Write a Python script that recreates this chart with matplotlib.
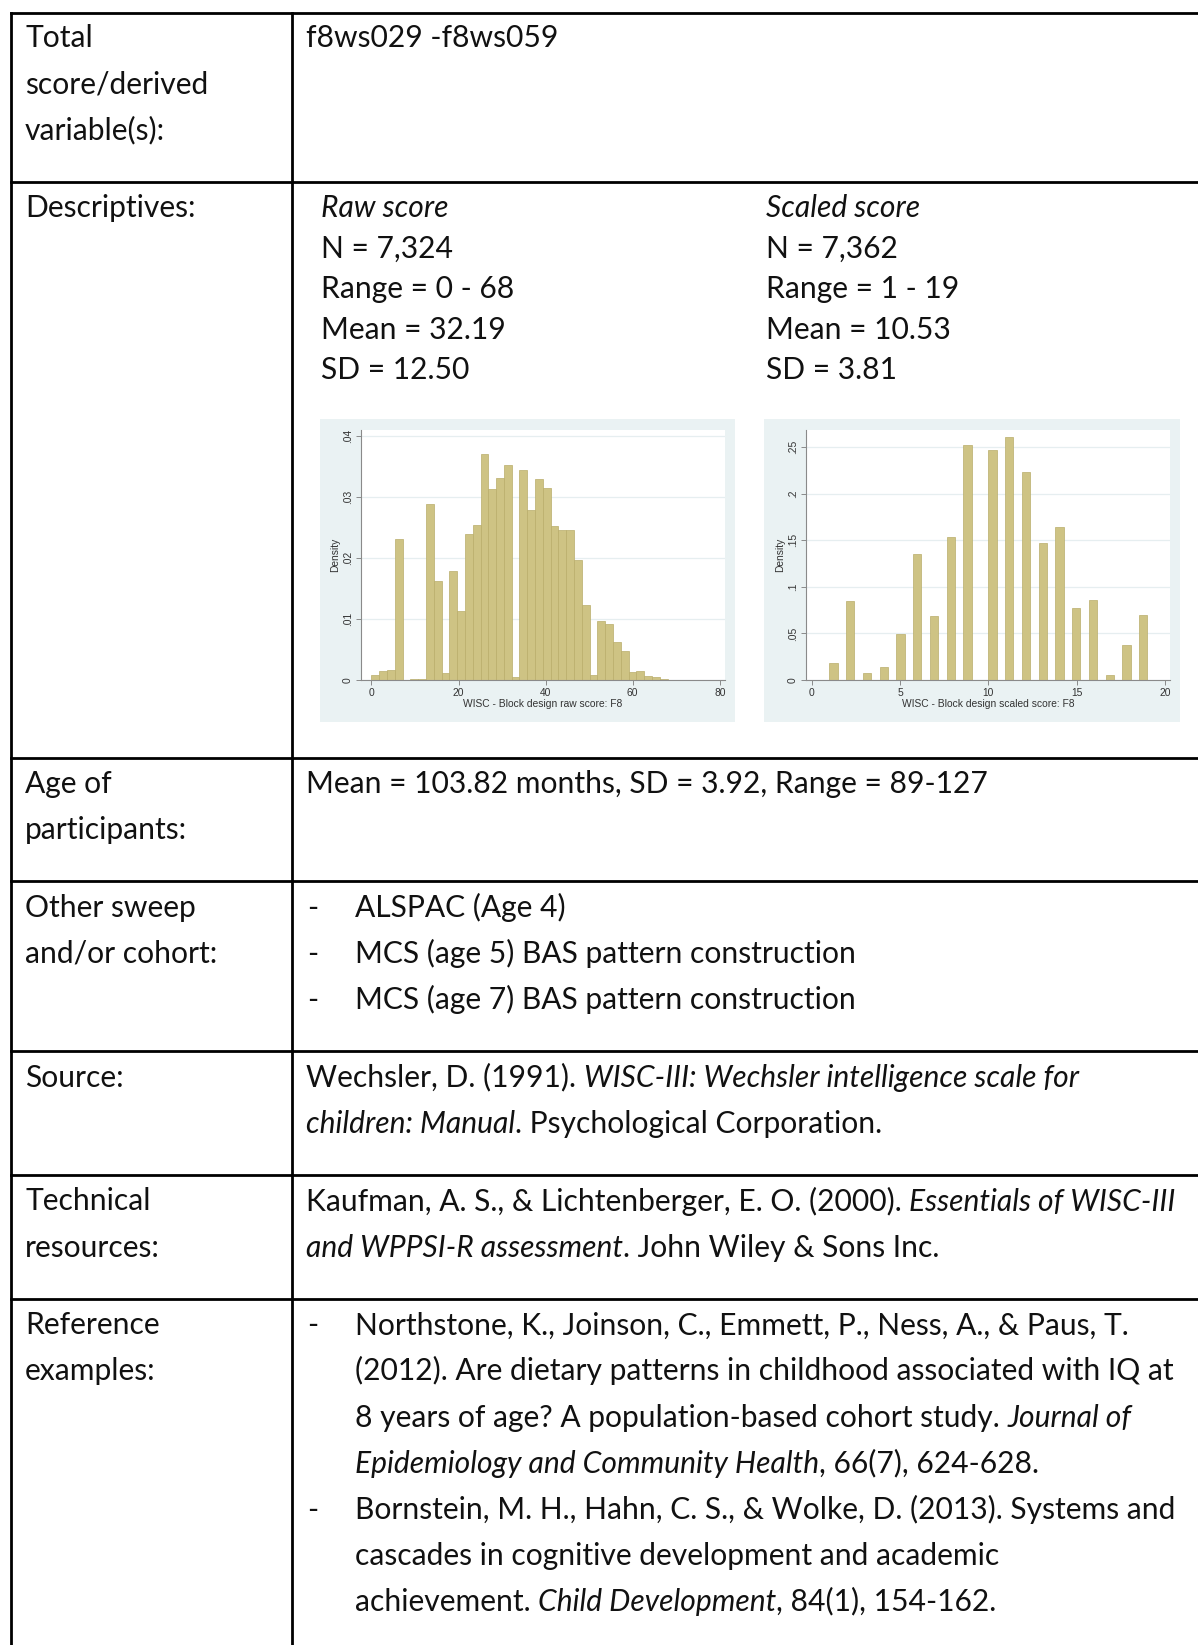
import matplotlib
matplotlib.use("Agg")
import matplotlib.pyplot as plt
import numpy as np
from matplotlib.lines import Line2D
from matplotlib.patches import Rectangle
from matplotlib.ticker import FuncFormatter

# ---- histogram data ----
raw_range = (0, 68)
raw_nbins = 38
raw_density = [0.0009, 0.0014, 0.0016, 0.0232, 0.0, 0.0001, 0.0002, 0.0288,
               0.0162, 0.0011, 0.0178, 0.0113, 0.0240, 0.0255, 0.0370, 0.0313,
               0.0331, 0.0352, 0.0005, 0.0344, 0.0279, 0.0330, 0.0315, 0.0253,
               0.0246, 0.0246, 0.0196, 0.0123, 0.0008, 0.0097, 0.0092, 0.0062,
               0.0048, 0.0013, 0.0015, 0.0006, 0.0005, 0.0001]

scaled_range = (1, 19)
scaled_nbins = 38
scaled_values = list(range(1, 20))
scaled_density = [0.0182, 0.0848, 0.0072, 0.0143, 0.0497, 0.1352, 0.0683,
                  0.1534, 0.2522, 0.2475, 0.2615, 0.2235, 0.1474, 0.1645,
                  0.0773, 0.0858, 0.0050, 0.0376, 0.0694]

raw_xticks = [0, 20, 40, 60, 80]
raw_yticks = [0, 0.01, 0.02, 0.03, 0.04]
scaled_xticks = [0, 5, 10, 15, 20]
scaled_yticks = [0, 0.05, 0.1, 0.15, 0.2, 0.25]

# ---- table text ----
N, I = False, True
left_labels = [
    ["Total", "score/derived", "variable(s):"],
    ["Descriptives:"],
    ["Age of", "participants:"],
    ["Other sweep", "and/or cohort:"],
    ["Source:"],
    ["Technical", "resources:"],
    ["Reference", "examples:"],
]
raw_desc = ["N = 7,324", "Range = 0 - 68", "Mean = 32.19", "SD = 12.50"]
scaled_desc = ["N = 7,362", "Range = 1 - 19", "Mean = 10.53", "SD = 3.81"]
age_text = "Mean = 103.82 months, SD = 3.92, Range = 89-127"
sweeps = ["ALSPAC (Age 4)", "MCS (age 5) BAS pattern construction",
          "MCS (age 7) BAS pattern construction"]
source_lines = [
    [("Wechsler, D. (1991). ", N), ("WISC-III: Wechsler intelligence scale for", I)],
    [("children: Manual", I), (". Psychological Corporation.", N)],
]
tech_lines = [
    [("Kaufman, A. S., & Lichtenberger, E. O. (2000). ", N), ("Essentials of WISC-III", I)],
    [("and WPPSI-R assessment", I), (". John Wiley & Sons Inc.", N)],
]
ref_lines = [
    [("Northstone, K., Joinson, C., Emmett, P., Ness, A., & Paus, T.", N)],
    [("(2012). Are dietary patterns in childhood associated with IQ at", N)],
    [("8 years of age? A population-based cohort study. ", N), ("Journal of", I)],
    [("Epidemiology and Community Health", I), (", 66(7), 624-628.", N)],
    [("Bornstein, M. H., Hahn, C. S., & Wolke, D. (2013). Systems and", N)],
    [("cascades in cognitive development and academic", N)],
    [("achievement. ", N), ("Child Development", I), (", 84(1), 154-162.", N)],
]
ref_bullet_lines = [0, 4]

W, H = 1198, 1645
TEXT = "#111111"
FONT = "Lato"

fig = plt.figure(figsize=(W / 100, H / 100), dpi=100)
fig.patch.set_facecolor("white")
renderer = fig.canvas.get_renderer()


def fx(x):
    return x / W


def fy(y):
    return 1 - y / H


def text_width(s, size, italic):
    kw = dict(fontsize=size, family=FONT, style="italic" if italic else "normal")
    t1 = fig.text(0, 0, s + "|", **kw)
    t2 = fig.text(0, 0, "|", **kw)
    w = t1.get_window_extent(renderer).width - t2.get_window_extent(renderer).width
    t1.remove()
    t2.remove()
    return w


# fit font size so a long reference line has the same width as in the picture
FS = 20 * 820 / text_width(ref_lines[1][0][0], 20, False)


def draw_segments(x, y, segments, size=None):
    size = size or FS
    for txt, italic in segments:
        fig.text(fx(x), fy(y), txt, fontsize=size, family=FONT, color=TEXT,
                 style="italic" if italic else "normal", ha="left", va="baseline")
        x += text_width(txt, size, italic)


def hline(y, x0=0, x1=W):
    fig.add_artist(Line2D([fx(x0), fx(x1)], [fy(y), fy(y)], color="black",
                          lw=2.0, transform=fig.transFigure, solid_capstyle="projecting"))


def vline(x, y0, y1):
    fig.add_artist(Line2D([fx(x), fx(x)], [fy(y0), fy(y1)], color="black",
                          lw=2.0, transform=fig.transFigure, solid_capstyle="projecting"))


# ---- table grid ----
row_lines = [13, 181.5, 757.5, 881, 1051, 1175, 1299]
for y in row_lines:
    hline(y, 10.5, W)
vline(10.5, 13, H)
vline(291.5, 13, H)

LX = 25
RX = 306
STEP = 46.1
row_first_base = [47.2, 217.2, 793, 916.8, 1086.8, 1210.5, 1334.3]

for labels, y0 in zip(left_labels, row_first_base):
    for k, lab in enumerate(labels):
        draw_segments(LX, y0 + k * STEP, [(lab, N)])

# row 1
draw_segments(RX, row_first_base[0], [("f8ws029 -f8ws059", N)])

# descriptives
DSTEP = 40.5
draw_segments(321, 217.2, [("Raw score", I)])
draw_segments(766, 217.2, [("Scaled score", I)])
for k, (a, b) in enumerate(zip(raw_desc, scaled_desc)):
    draw_segments(321, 217.2 + (k + 1) * DSTEP, [(a, N)])
    draw_segments(766, 217.2 + (k + 1) * DSTEP, [(b, N)])

# age
draw_segments(RX, row_first_base[2], [(age_text, N)])

# other sweeps
DASH_X = 307
for k, s in enumerate(sweeps):
    y = row_first_base[3] + k * STEP
    draw_segments(DASH_X, y, [("-", N)])
    draw_segments(355, y, [(s, N)])

for k, segs in enumerate(source_lines):
    draw_segments(RX, row_first_base[4] + k * STEP, segs)
for k, segs in enumerate(tech_lines):
    draw_segments(RX, row_first_base[5] + k * STEP, segs)
for k, segs in enumerate(ref_lines):
    y = row_first_base[6] + k * STEP
    if k in ref_bullet_lines:
        draw_segments(DASH_X, y, [("-", N)])
    draw_segments(355, y, segs)

# ---- histograms (Stata-like) ----
REGION = "#EAF2F3"
GRID = "#E6EEF0"
AXIS = "#8a8a8a"
BAR = "#CEC384"
BAR_EDGE = "#B9AD6A"
TICK_FS = 7.4


def histogram(region, box, lefts, width, heights, xlim, ylim, xticks, yticks, xlabel):
    rx0, ry0, rx1, ry1 = region
    fig.add_artist(Rectangle((fx(rx0), fy(ry1)), (rx1 - rx0) / W, (ry1 - ry0) / H,
                             transform=fig.transFigure, facecolor=REGION,
                             edgecolor="none", zorder=0))
    x0, y0, x1, y1 = box
    ax = fig.add_axes([fx(x0), fy(y1), (x1 - x0) / W, (y1 - y0) / H])
    ax.set_facecolor("white")
    ax.bar(lefts, heights, width=width, align="edge", color=BAR,
           edgecolor=BAR_EDGE, linewidth=0.5, zorder=2)
    ax.set_xlim(*xlim)
    ax.set_ylim(*ylim)
    ax.set_xticks(xticks)
    ax.set_yticks(yticks)
    ax.yaxis.set_major_formatter(FuncFormatter(lambda v, _: ("%g" % v).lstrip("0") or "0"))
    for v in yticks:
        ax.axhline(v, color=GRID, lw=0.9, zorder=1)
    for s in ["top", "right"]:
        ax.spines[s].set_visible(False)
    for s in ["left", "bottom"]:
        ax.spines[s].set_color(AXIS)
        ax.spines[s].set_linewidth(0.8)
    ax.tick_params(axis="both", length=3.5, width=0.7, color=AXIS, pad=2.5,
                   labelsize=TICK_FS, labelcolor="#333333")
    for lab in ax.get_xticklabels() + ax.get_yticklabels():
        lab.set_family("Liberation Sans")
    for lab in ax.get_yticklabels():
        lab.set_rotation(90)
        lab.set_va("center")
    ax.set_xlabel(xlabel, fontsize=TICK_FS, family="Liberation Sans",
                  color="#333333", labelpad=0.5)
    ax.set_ylabel("Density", fontsize=TICK_FS, family="Liberation Sans",
                  color="#333333", labelpad=2)
    return ax


raw_edges = np.linspace(raw_range[0], raw_range[1], raw_nbins + 1)
raw_w = raw_edges[1] - raw_edges[0]
histogram((320, 419, 735, 722), (361, 430, 725, 680), raw_edges[:-1], raw_w,
          raw_density, (-2.4, 81.2), (0, 0.041), raw_xticks, raw_yticks,
          "WISC - Block design raw score: F8")

sc_w = (scaled_range[1] - scaled_range[0]) / scaled_nbins
sc_bin = np.minimum(np.floor((np.array(scaled_values) - scaled_range[0]) / sc_w + 1e-9),
                    scaled_nbins - 1)
sc_lefts = scaled_range[0] + sc_bin * sc_w
histogram((764, 419, 1180, 722), (806, 430, 1170, 680), sc_lefts, sc_w,
          scaled_density, (-0.32, 20.28), (0, 0.2686), scaled_xticks, scaled_yticks,
          "WISC - Block design scaled score: F8")

fig.savefig("out.png", dpi=100, facecolor="white")
